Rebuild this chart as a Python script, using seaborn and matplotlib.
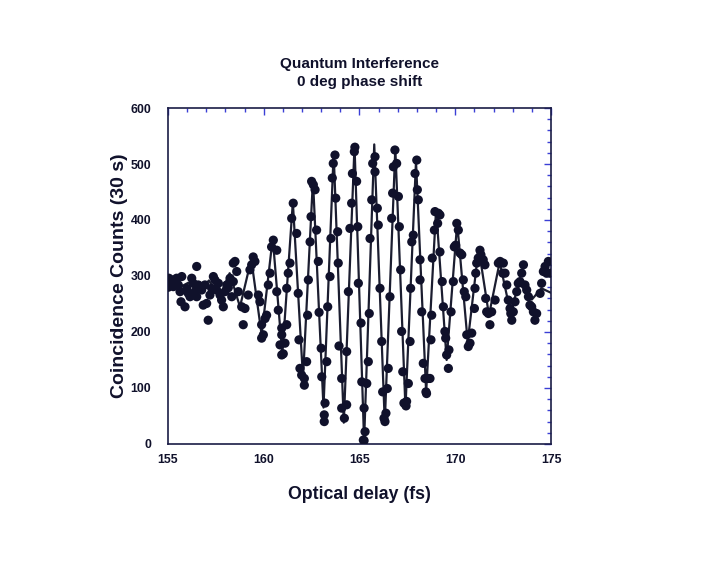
import pandas as pd
import matplotlib
matplotlib.use("Agg")
import matplotlib.pyplot as plt
from matplotlib.ticker import MultipleLocator
import seaborn as sns

# measured coincidence counts (delay in fs, counts per 30 s)
delay_fs = [
    155.02, 155.05, 155.10, 155.19, 155.28, 155.37, 155.45, 155.54, 155.63, 155.72, 155.68, 155.89,
    155.98, 156.06, 156.15, 156.24, 156.32, 156.41, 156.50, 156.50, 156.58, 156.67, 156.76, 156.84,
    156.93, 157.02, 157.10, 157.19, 157.28, 157.37, 157.45, 157.54, 157.63, 157.72, 157.80, 157.89,
    157.98, 158.07, 158.15, 158.33, 158.41,
    161.54, 161.46, 161.72, 160.50, 160.41, 160.68, 159.45, 159.54, 159.37, 158.50, 158.59, 159.28,
    161.37, 161.28, 160.33, 158.24, 158.41, 158.67, 159.19, 160.24, 160.68, 159.72, 159.80, 161.20,
    158.85, 159.02, 160.76, 160.15, 160.07, 160.94, 161.20, 159.89, 158.93, 159.98, 159.89, 160.94,
    161.11, 160.85, 160.94, 161.02,
    161.80, 161.84, 161.89, 161.98, 162.12, 162.12, 162.24, 162.29, 162.33, 162.42, 162.47, 162.50,
    162.59, 162.68, 162.76, 162.85, 162.89, 163.00, 163.03, 163.20, 163.16, 163.16, 163.29, 163.34,
    163.46, 163.51, 163.58, 163.63, 163.72, 163.76, 163.86, 163.89, 163.93, 164.07, 164.07, 164.21,
    164.33, 164.33, 164.42, 164.50, 164.59, 164.63, 164.73, 164.76, 164.85, 164.91, 164.94, 165.08,
    165.12, 165.20,
    165.24, 165.29, 165.24, 165.38, 165.46, 165.51, 165.55, 165.64, 165.69, 165.81, 165.81, 165.93,
    165.98, 166.07, 166.16, 166.21, 166.28, 166.33, 166.38, 166.45, 166.50, 166.59, 166.68, 166.73,
    166.77, 166.85, 166.94, 167.03, 167.08, 167.15, 167.20, 167.26, 167.32, 167.43, 167.46, 167.55,
    167.64, 167.67, 167.73, 167.81, 167.90, 167.99, 168.02, 168.07, 168.16, 168.16, 168.25, 168.33,
    168.42, 168.47, 168.59,
    168.50, 168.68, 168.73, 168.77, 168.80, 168.91, 168.94, 169.12, 169.20, 169.08, 169.20, 169.32,
    169.38, 169.46, 169.50, 169.55, 169.64, 169.67, 169.78, 169.90, 169.95, 170.02, 170.08, 170.16,
    170.25, 170.34, 170.42, 170.47, 170.55, 170.60, 170.68, 170.77, 170.86, 171.00, 171.03, 171.07,
    171.12, 171.20, 171.29, 171.34, 171.46, 171.55, 171.59, 171.64, 171.73, 171.81, 171.90,
    172.08, 172.25, 172.34, 172.51, 172.48, 172.60, 172.69, 172.77, 172.86, 172.90, 172.95, 173.03,
    173.12, 173.21, 173.29, 173.38, 173.47, 173.56, 173.64, 173.73, 173.82, 173.90, 173.99, 174.08,
    174.25, 174.16, 174.43, 174.51, 174.60, 174.77, 174.86, 174.95, 174.69,
]
counts = [
    280, 296, 287, 293, 281, 290, 296, 284, 272, 299, 254, 245,
    278, 269, 263, 296, 287, 272, 317, 263, 284, 281, 275, 248,
    284, 251, 221, 266, 278, 299, 293, 275, 287, 266, 257, 245,
    272, 284, 279, 263, 323,
    430, 403, 376, 364, 352, 346, 334, 326, 320, 326, 308, 311,
    323, 305, 305, 296, 290, 272, 266, 284, 272, 266, 254, 278,
    245, 242, 239, 230, 224, 207, 213, 213, 213, 195, 189, 195,
    180, 177, 159, 161,
    269, 186, 135, 123, 117, 105, 147, 230, 293, 361, 406, 469,
    463, 454, 382, 326, 235, 171, 120, 73, 52, 40, 147, 245,
    299, 367, 475, 501, 516, 439, 379, 323, 175, 117, 64, 46,
    70, 165, 272, 385, 430, 483, 522, 530, 469, 388, 287, 216,
    111, 7,
    64, 22, 6, 108, 147, 233, 367, 436, 501, 513, 486, 421,
    391, 278, 183, 93, 46, 40, 55, 99, 135, 263, 403, 448,
    495, 525, 501, 442, 388, 311, 201, 129, 73, 68, 76, 108,
    183, 278, 361, 373, 483, 507, 454, 436, 329, 293, 236, 144,
    117, 93, 117,
    90, 117, 186, 230, 332, 382, 415, 412, 409, 394, 343, 290,
    245, 201, 189, 159, 135, 168, 236, 290, 352, 355, 394, 382,
    341, 338, 293, 272, 263, 195, 174, 180, 198, 242, 278, 305,
    323, 332, 346, 338, 329, 320, 260, 236, 233, 213, 236,
    257, 323, 326, 323, 305, 305, 284, 257, 242, 233, 221, 236,
    254, 272, 287, 290, 305, 320, 284, 275, 263, 248, 245, 236,
    233, 221, 269, 287, 308, 305, 326, 305, 317,
]

# fitted interference curve, read at its turning points
fit_fs = [155.0, 155.52, 156.06, 156.60, 157.14, 157.68, 158.22, 158.76, 159.35, 159.89,
          160.47, 160.97, 161.52, 162.05, 162.57, 163.12, 163.65, 164.18, 164.74, 165.24,
          165.77, 166.32, 166.87, 167.40, 167.95, 168.48, 169.00, 169.55, 170.10, 170.65,
          171.22, 171.76, 172.32, 172.88, 173.38, 174.0, 174.5, 175.0]
fit_counts = [285, 278, 288, 272, 292, 262, 305, 245, 330, 195,
              368, 160, 432, 118, 472, 65, 520, 38, 533, 5,
              535, 38, 528, 64, 505, 92, 420, 150, 395, 182,
              350, 230, 325, 235, 292, 258, 278, 270]

pts = pd.DataFrame({"delay": delay_fs, "counts": counts})
fit = pd.DataFrame({"delay": fit_fs, "counts": fit_counts})

sns.set_style("white")
plt.rcParams["font.family"] = ["Liberation Sans", "DejaVu Sans"]
ink = "#10112b"
tick_blue = "#3b3fd6"

fig = plt.figure(figsize=(7.04, 5.64), dpi=100)
ax = fig.add_axes([0.2386, 0.2128, 0.5441, 0.5957])

sns.lineplot(data=fit, x="delay", y="counts", ax=ax, color="#1b1d30", lw=1.6,
             estimator=None, sort=False)
sns.scatterplot(data=pts, x="delay", y="counts", ax=ax, color=ink, s=44,
                edgecolor="none", zorder=3)

ax.set_xlim(155, 175)
ax.set_ylim(0, 600)
ax.xaxis.set_major_locator(MultipleLocator(5))
ax.xaxis.set_minor_locator(MultipleLocator(1))
ax.yaxis.set_major_locator(MultipleLocator(100))
ax.yaxis.set_minor_locator(MultipleLocator(20))
ax.tick_params(which="both", direction="in", top=True, right=True, color=tick_blue,
               labelcolor=ink, labelsize=8.8, width=1)
ax.tick_params(which="major", length=5)
ax.tick_params(which="minor", length=3)
ax.tick_params(axis="x", pad=7)
ax.tick_params(axis="y", pad=12)
for lab in ax.get_xticklabels() + ax.get_yticklabels():
    lab.set_fontweight("bold")
for sp in ax.spines.values():
    sp.set_color("#1a1c45")
    sp.set_linewidth(1.2)

ax.set_title("Quantum Interference\n0 deg phase shift", fontsize=11, fontweight="bold",
             color=ink, pad=16, linespacing=1.3)
ax.set_xlabel("Optical delay (fs)", fontsize=12.8, fontweight="bold", color=ink)
ax.set_ylabel("Coincidence Counts (30 s)", fontsize=14, fontweight="bold", color=ink)
ax.xaxis.set_label_coords(0.5, -0.125)
ax.yaxis.set_label_coords(-0.104, 0.5)

fig.savefig("out.png", dpi=100, facecolor="white")
